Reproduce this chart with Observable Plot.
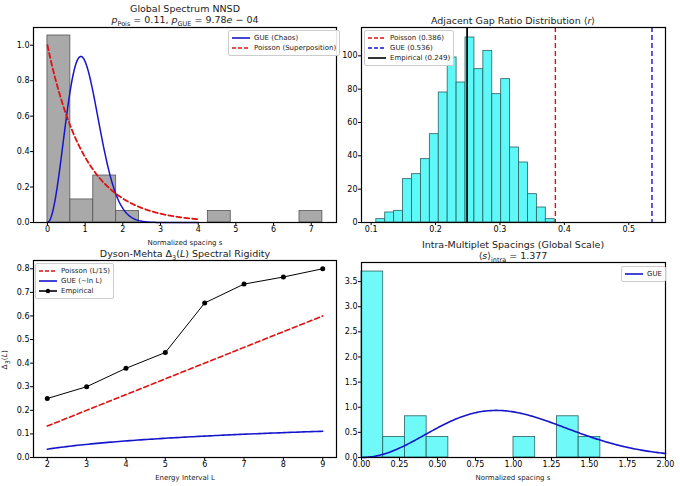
<!DOCTYPE html><html><head><meta charset="utf-8">
<script src="https://cdn.jsdelivr.net/npm/d3@7"></script>
<script src="https://cdn.jsdelivr.net/npm/@observablehq/plot@0.6"></script>
<style>
body{margin:0;background:#fff;font-family:"DejaVu Sans",sans-serif;}
#root{position:relative;width:680px;height:486px;}
.p{position:absolute;}
.t{position:absolute;font-size:9.5px;color:#222;text-align:center;line-height:11px;}
.lg{position:absolute;font-size:7px;background:rgba(255,255,255,0.9);border:1px solid #ccc;border-radius:2px;padding:2px 3px;line-height:10px;color:#222;white-space:nowrap}
.lg svg{vertical-align:middle;margin-right:4px}
sub{font-size:6.5px}
</style></head><body><div id="root"></div>
<script>
// Panel A: global NNSD histogram
const nnsdEdges = [0,0.608,1.216,1.824,2.432,3.04,3.648,4.256,4.864,5.472,6.08,6.688,7.296];
const nnsdHeights = [1.055,0.13,0.265,0.065,0,0,0,0.065,0,0,0,0.065];
// Panel B: adjacent gap ratio histogram
const rStart = 0.108, rWidth = 0.01385;
const rCounts = [2,6,7,26,29,38,53,78,99,84,111,92,103,77,86,45,36,17,9,2];
const rPoisson = 0.386, rGUE = 0.536, rEmp = 0.249;
// Panel C: Dyson-Mehta
const dmL = [2,3,4,5,6,7,8,9];
const dmEmp = [0.25,0.30,0.378,0.445,0.655,0.735,0.765,0.80];
// Panel D: intra-multiplet
const intraWidth = 2/14;
const intraHeights = [3.7,0.41,0.82,0.41,0,0,0,0.41,0,0.82,0.41];

const gue = s => 32/(Math.PI**2)*s*s*Math.exp(-4*s*s/Math.PI);
const root = document.getElementById("root");
const font = {fontSize:"8px", fontFamily:"DejaVu Sans", overflow:"visible", background:"transparent"};
function place(el,x,y){el.classList.add("p");el.style.left=x+"px";el.style.top=y+"px";root.appendChild(el);}
function html(cls,x,y,w,s){const d=document.createElement("div");d.className=cls;d.style.left=x+"px";d.style.top=y+"px";if(w)d.style.width=w+"px";d.innerHTML=s;root.appendChild(d);return d;}
const ln=(c,dash,dot)=>`<svg width="18" height="6"><line x1="0" y1="3" x2="18" y2="3" stroke="${c}" stroke-width="1.6" ${dash?'stroke-dasharray="4,2"':''}/>${dot?`<circle cx="9" cy="3" r="2.2" fill="${c}"/>`:''}</svg>`;
const range=(a,b,n)=>d3.range(n+1).map(i=>a+(b-a)*i/n);
const ax=(o)=>Object.assign({label:null,tickSize:3,tickPadding:1},o);
const M=(t,r,b,l)=>({marginTop:t,marginRight:r,marginBottom:b,marginLeft:l});
const frame=()=>Plot.frame({stroke:"black",strokeWidth:1.2,fill:"none"});

// A
const binsA = nnsdHeights.map((h,i)=>({x1:nnsdEdges[i],x2:nnsdEdges[i+1],y:h})).filter(d=>d.y>0);
const sA = range(0,4,200);
place(Plot.plot({width:340,height:243,...M(27,4,21,33),style:font,
 x:ax({domain:[-0.37,7.67],ticks:[0,1,2,3,4,5,6,7]}),
 y:ax({domain:[0,1.1],ticks:[0,0.2,0.4,0.6,0.8,1.0],tickFormat:d3.format(".1f")}),
 marks:[
  Plot.rectY(binsA,{x1:"x1",x2:"x2",y:"y",fill:"#a9a9a9",stroke:"#555",strokeWidth:0.8}),
  Plot.line(sA,{x:d=>d,y:gue,stroke:"#1515cc",strokeWidth:1.5}),
  Plot.line(sA,{x:d=>d,y:d=>Math.exp(-d),stroke:"#e01010",strokeWidth:1.8,strokeDasharray:"5,3"}),
  frame()
 ]}),0,0);
html("t",33,3,304,"Global Spectrum NNSD<br><i>p</i><sub>Pois</sub> = 0.11, <i>p</i><sub>GUE</sub> = 9.78<i>e</i> − 04");
html("t",33,236,304,'<span style="font-size:7px">Normalized spacing s</span>');
html("lg",228,30,null,ln("#1515cc")+"GUE (Chaos)<br>"+ln("#e01010",1)+"Poisson (Superposition)");

// B
const binsB = rCounts.map((c,i)=>({x1:rStart+i*rWidth,x2:rStart+(i+1)*rWidth,y:c}));
place(Plot.plot({width:340,height:243,...M(27,15,21,21),style:font,
 x:ax({domain:[0.085,0.557],ticks:[0.1,0.2,0.3,0.4,0.5],tickFormat:d3.format(".1f")}),
 y:ax({domain:[0,117],ticks:[0,20,40,60,80,100]}),
 marks:[
  Plot.rectY(binsB,{x1:"x1",x2:"x2",y:"y",fill:"#5ff8f8",stroke:"#2a6060",strokeWidth:0.8}),
  Plot.ruleX([rPoisson],{stroke:"#e01010",strokeWidth:1.4,strokeDasharray:"5,3"}),
  Plot.ruleX([rGUE],{stroke:"#1515cc",strokeWidth:1.4,strokeDasharray:"5,3"}),
  Plot.ruleX([rEmp],{stroke:"#000",strokeWidth:1.8}),
  frame()
 ]}),340,0);
html("t",361,15,304,"Adjacent Gap Ratio Distribution ⟨<i>r</i>⟩");
html("lg",364,30,null,ln("#e01010",1)+"Poisson (0.386)<br>"+ln("#1515cc",1)+"GUE (0.536)<br>"+ln("#000")+"Empirical (0.249)");

// C
const Lc = range(2,9,100);
const dmData = dmL.map((L,i)=>({L,v:dmEmp[i]}));
place(Plot.plot({width:340,height:243,...M(17,4,29,33),style:font,
 x:ax({domain:[1.65,9.35],ticks:[2,3,4,5,6,7,8,9]}),
 y:ax({domain:[0,0.835],ticks:[0,0.1,0.2,0.3,0.4,0.5,0.6,0.7,0.8],tickFormat:d3.format(".1f")}),
 marks:[
  Plot.line(Lc,{x:d=>d,y:d=>d/15,stroke:"#e01010",strokeWidth:1.6,strokeDasharray:"5,3"}),
  Plot.line(Lc,{x:d=>d,y:d=>Math.log(d)/(2*Math.PI**2),stroke:"#1515cc",strokeWidth:1.6}),
  Plot.line(dmData,{x:"L",y:"v",stroke:"#000",strokeWidth:1}),
  Plot.dot(dmData,{x:"L",y:"v",fill:"#000",r:2.5}),
  frame()
 ]}),0,243);
html("t",33,248,304,"Dyson-Mehta Δ<sub>3</sub>(<i>L</i>) Spectral Rigidity");
html("t",33,471,304,'<span style="font-size:7px">Energy Interval L</span>');
const yl=html("t",-14,352,40,'<span style="font-size:7.5px">Δ<sub>3</sub>(<i>L</i>)</span>');yl.style.transform="rotate(-90deg)";
html("lg",35,263,null,ln("#e01010",1)+"Poisson (L/15)<br>"+ln("#1515cc")+"GUE (~ln L)<br>"+ln("#000",0,1)+"Empirical");

// D
const binsD = intraHeights.map((h,i)=>({x1:i*intraWidth,x2:(i+1)*intraWidth,y:h})).filter(d=>d.y>0);
const sD = range(0,2,200);
place(Plot.plot({width:340,height:243,...M(19,15,29,21),style:font,
 x:ax({domain:[0,2],ticks:d3.range(0,2.01,0.25),tickFormat:d3.format(".2f")}),
 y:ax({domain:[0,3.88],ticks:[0,0.5,1,1.5,2,2.5,3,3.5],tickFormat:d3.format(".1f")}),
 marks:[
  Plot.rectY(binsD,{x1:"x1",x2:"x2",y:"y",fill:"#5ff8f8",fillOpacity:0.9,stroke:"#2a6060",strokeWidth:0.8}),
  Plot.line(sD,{x:d=>d,y:gue,stroke:"#1515cc",strokeWidth:1.6}),
  frame()
 ]}),340,243);
html("t",361,239,304,"Intra-Multiplet Spacings (Global Scale)<br>⟨<i>s</i>⟩<sub>intra</sub> = 1.377");
html("t",361,471,304,'<span style="font-size:7px">Normalized spacing s</span>');
html("lg",621,266,null,ln("#1515cc")+"GUE");
</script></body></html>
